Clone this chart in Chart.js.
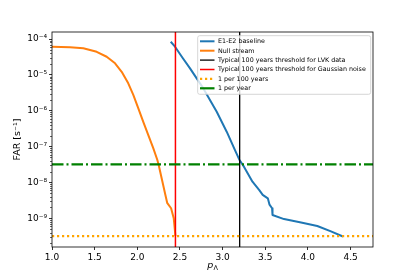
<!DOCTYPE html>
<html><head><meta charset="utf-8">
<script src="https://cdn.jsdelivr.net/npm/chart.js@4/dist/chart.umd.min.js"></script>
<style>html,body{margin:0;padding:0;background:#fff;}#wrap{width:415px;height:277px;}</style>
</head><body><div id="wrap"><canvas id="c" width="415" height="277"></canvas></div>
<script>
// ---- data ----
const baselineP   = [2.392, 2.442, 2.53, 2.618, 2.774, 2.931, 3.048, 3.145, 3.196, 3.25, 3.30, 3.35, 3.43, 3.47, 3.53, 3.55, 3.58, 3.585, 3.72, 3.92, 4.11, 4.27, 4.41];
const baselineFAR = [8.4e-5, 6.1e-5, 3.0e-5, 1.52e-5, 4.2e-6, 9.4e-7, 2.6e-7, 8.0e-8, 4.3e-8, 2.75e-8, 1.7e-8, 1.05e-8, 6.1e-9, 4.5e-9, 3.6e-9, 2.4e-9, 1.9e-9, 1.23e-9, 9.5e-10, 7.6e-10, 6.1e-10, 4.3e-10, 3.1e-10];
const nullP   = [1.0, 1.211, 1.367, 1.524, 1.641, 1.739, 1.817, 1.894, 1.953, 2.012, 2.07, 2.129, 2.188, 2.234, 2.25, 2.29, 2.33, 2.35, 2.396, 2.427, 2.447];
const nullFAR = [6.1e-5, 5.9e-5, 5.5e-5, 4.4e-5, 3.2e-5, 2.1e-5, 1.22e-5, 5.8e-6, 2.75e-6, 1.17e-6, 4.9e-7, 2.1e-7, 8.9e-8, 4.3e-8, 3.1e-8, 1.17e-8, 4.4e-9, 2.7e-9, 1.9e-9, 1.0e-9, 3.2e-10];
const lvkThreshold = 3.2;
const gaussThreshold = 2.447;
const onePer100Years = 3.17e-10;
const onePerYear = 3.17e-8;
const seriesLabels = ['E1-E2 baseline', 'Null stream', 'Typical 100 years threshold for LVK data',
  'Typical 100 years threshold for Gaussian noise', '1 per 100 years', '1 per year'];
const xTicks = [1.0, 1.5, 2.0, 2.5, 3.0, 3.5, 4.0, 4.5];
const yTicks = [1e-9, 1e-8, 1e-7, 1e-6, 1e-5, 1e-4];
const yTickLabels = ['10\u207B\u2079', '10\u207B\u2078', '10\u207B\u2077', '10\u207B\u2076', '10\u207B\u2075', '10\u207B\u2074'];
const X_MIN = 1.0, X_MAX = 4.763, Y_MIN = 1.58e-10, Y_MAX = 1.57e-4;

const pts = (xs, ys) => xs.map((x, i) => ({x: x, y: ys[i]}));
const FONT = 'DejaVu Sans';

const decorPlugin = {
  id: 'decor',
  afterDatasetsDraw(chart) {
    const ctx = chart.ctx, a = chart.chartArea, ys = chart.scales.y;
    ctx.save();
    // minor log ticks
    ctx.strokeStyle = '#000'; ctx.lineWidth = 0.6;
    for (let n = -10; n <= -4; n++) {
      for (let k = 2; k <= 9; k++) {
        const v = k * Math.pow(10, n);
        if (v < Y_MIN || v > Y_MAX) continue;
        const py = Math.round(ys.getPixelForValue(v)) + 0.5;
        ctx.beginPath(); ctx.moveTo(a.left - 2, py); ctx.lineTo(a.left, py); ctx.stroke();
      }
    }
    // spines
    ctx.strokeStyle = '#000'; ctx.lineWidth = 0.8;
    ctx.strokeRect(a.left, a.top, a.right - a.left, a.bottom - a.top);
    // legend
    const ds = chart.data.datasets;
    const lx = 197.7, ly = 35.7, lw = 173, lh = 58.6;
    ctx.beginPath();
    if (ctx.roundRect) ctx.roundRect(lx, ly, lw, lh, 2); else ctx.rect(lx, ly, lw, lh);
    ctx.fillStyle = 'rgba(255,255,255,0.8)'; ctx.fill();
    ctx.strokeStyle = '#cccccc'; ctx.lineWidth = 0.8; ctx.stroke();
    ctx.font = '6.35px "' + FONT + '"';
    ctx.textBaseline = 'middle'; ctx.textAlign = 'left';
    for (let i = 0; i < ds.length; i++) {
      const y = 41.3 + i * 9.4;
      ctx.beginPath();
      ctx.strokeStyle = ds[i].borderColor;
      ctx.lineWidth = ds[i].borderWidth;
      ctx.setLineDash(ds[i].legendDash || []);
      ctx.moveTo(200, y); ctx.lineTo(214.5, y); ctx.stroke();
      ctx.setLineDash([]);
      ctx.fillStyle = '#000';
      ctx.fillText(ds[i].label, 218, y + 0.3);
    }
    // axis titles
    ctx.fillStyle = '#000';
    ctx.textBaseline = 'alphabetic';
    ctx.font = 'italic 9.5px "' + FONT + '"';
    const cx = (a.left + a.right) / 2;
    const pw = ctx.measureText('p').width;
    ctx.font = '6.5px "' + FONT + '"';
    const lw2 = ctx.measureText('\u039B').width;
    const startX = cx - (pw + lw2) / 2;
    ctx.font = 'italic 9.5px "' + FONT + '"';
    ctx.fillText('p', startX, 268);
    ctx.font = '6.5px "' + FONT + '"';
    ctx.fillText('\u039B', startX + pw + 0.3, 269.5);
    ctx.save();
    ctx.translate(19.5, (a.top + a.bottom) / 2);
    ctx.rotate(-Math.PI / 2);
    ctx.font = '9.5px "' + FONT + '"';
    ctx.textAlign = 'center';
    ctx.fillText('FAR [s\u207B\u00B9]', 0, 0);
    ctx.restore();
    ctx.restore();
  }
};

new Chart(document.getElementById('c'), {
  type: 'line',
  data: {
    datasets: [
      {label: seriesLabels[0], data: pts(baselineP, baselineFAR), borderColor: '#1f77b4', borderWidth: 2, order: 5},
      {label: seriesLabels[1], data: pts(nullP, nullFAR), borderColor: '#ff7f0e', borderWidth: 2, order: 4},
      {label: seriesLabels[2], data: [{x: lvkThreshold, y: Y_MIN}, {x: lvkThreshold, y: Y_MAX}], borderColor: '#000000', borderWidth: 1.3, order: 3},
      {label: seriesLabels[3], data: [{x: gaussThreshold, y: Y_MIN}, {x: gaussThreshold, y: Y_MAX}], borderColor: '#ff0000', borderWidth: 1.5, order: 2},
      {label: seriesLabels[4], data: [{x: X_MIN, y: onePer100Years}, {x: X_MAX, y: onePer100Years}], borderColor: '#ffa500', borderWidth: 2.2, borderDash: [2.2, 2.8], legendDash: [2.2, 2.8], order: 1},
      {label: seriesLabels[5], data: [{x: X_MIN, y: onePerYear}, {x: X_MAX, y: onePerYear}], borderColor: '#008000', borderWidth: 2.2, borderDash: [11.5, 3, 2, 3], order: 0}
    ]
  },
  options: {
    responsive: false, animation: false, devicePixelRatio: 1,
    layout: {padding: {left: 0, right: 42, top: 32, bottom: 0}},
    plugins: {legend: {display: false}, tooltip: {enabled: false}, title: {display: false}},
    elements: {point: {radius: 0}, line: {tension: 0, borderCapStyle: 'butt', borderJoinStyle: 'round'}},
    scales: {
      x: {
        type: 'linear', min: X_MIN, max: X_MAX,
        afterBuildTicks: s => { s.ticks = xTicks.map(v => ({value: v})); },
        afterFit: s => { s.height = 30; },
        ticks: {callback: v => Number(v).toFixed(1), font: {family: FONT, size: 9}, color: '#000', padding: 2, maxRotation: 0, autoSkip: false},
        grid: {drawOnChartArea: false, tickLength: 3, tickColor: '#000', tickWidth: 0.8},
        border: {display: false}
      },
      y: {
        type: 'logarithmic', min: Y_MIN, max: Y_MAX,
        afterBuildTicks: s => { s.ticks = yTicks.map(v => ({value: v})); },
        afterFit: s => { s.width = 52; },
        ticks: {callback: (v, i) => yTickLabels[i], font: {family: FONT, size: 9}, color: '#000', padding: 2, autoSkip: false},
        grid: {drawOnChartArea: false, tickLength: 3, tickColor: '#000', tickWidth: 0.8},
        border: {display: false}
      }
    }
  },
  plugins: [decorPlugin]
});
</script>
</body></html>
